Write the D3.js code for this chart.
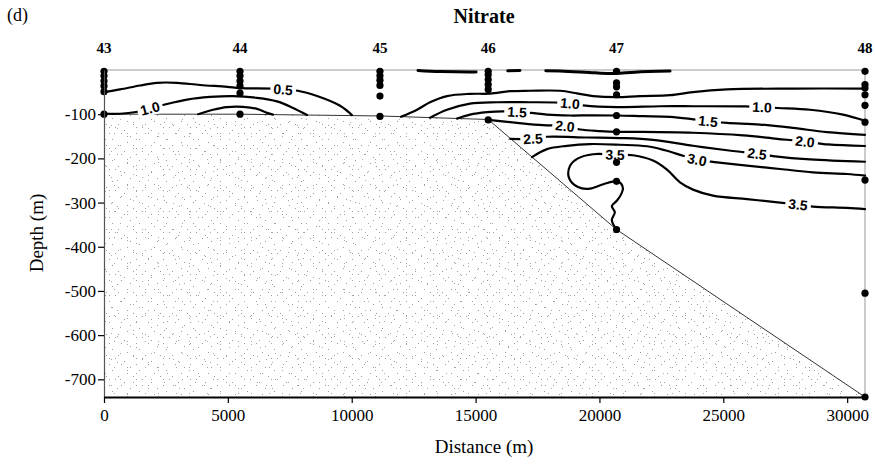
<!DOCTYPE html>
<html>
<head>
<meta charset="utf-8">
<script src="https://cdn.jsdelivr.net/npm/d3@7"></script>
<style>
  body { margin: 0; background: #fff; }
  svg { display: block; }
</style>
</head>
<body>
<svg id="chart" width="875" height="465"></svg>
<script>
// ---- Transect stations ----
const stationNames = ["43", "44", "45", "46", "47", "48"];
const stationDistance = [0, 5490, 11140, 15510, 20690, 30720];
const sampleDepths = [
  [-3, -13, -25, -36, -49, -100],
  [-3, -13, -25, -36, -52, -100],
  [-3, -13, -23, -35, -59, -105],
  [-3, -11, -22, -33, -44, -113],
  [-3, -29, -38, -56, -103, -140, -209, -252, -361],
  [-3, -33, -41, -56, -80, -118, -249, -505, -740]
];

// ---- Axis ticks ----
const xTicks = [0, 5000, 10000, 15000, 20000, 25000, 30000];
const yTicks = [-100, -200, -300, -400, -500, -600, -700];

// ---- Sea floor (distance, depth) ----
const bottomProfile = [[0, -100], [5490, -100], [11140, -104], [15510, -112], [20690, -361], [30720, -740]];

// ---- Nitrate isolines (distance m, depth m) ----
const iso05West = [[0, -50], [650, -44], [1450, -35], [2140, -29], [2950, -29], [3880, -34], [4970, -38], [5490, -41], [6780, -42], [7230, -44], [7830, -47], [8600, -59], [9530, -81], [10010, -102]];
const iso05Surface = [[12676, -1], [13564, -3.5], [15098, -4.5], [15986, -2.5], [17197, -1], [18408, -2.5], [19821, -6.5], [20628, -8], [21435, -5], [22848, -2.5]];
const iso05East = [[11990, -106], [12635, -90], [13160, -73], [13846, -59], [14775, -54], [15582, -53.5], [16389, -48], [17197, -47], [18408, -47], [19094, -53], [19740, -59], [20709, -61.5], [21637, -59], [22848, -57], [23777, -50], [25149, -44], [27814, -42], [30720, -42]];
const iso10West = [[0, -99], [646, -99], [1292, -95], [1857, -87], [2462, -78], [3351, -67], [4279, -61], [5207, -59], [6176, -63], [6984, -71], [7630, -86], [8195, -102]];
const iso10East = [[13160, -108], [13846, -90], [14775, -76], [15865, -73], [17197, -73], [18206, -73.5], [18811, -75.5], [19336, -80], [20709, -84], [22445, -82], [23777, -82], [25876, -82.5], [26562, -84], [27208, -86], [28500, -90], [29832, -101], [30720, -115]];
const iso15West = [[3800, -100], [4400, -90], [4965, -84], [5611, -83.5], [6176, -88], [6580, -97], [6820, -101]];
const iso15East = [[14250, -110], [14775, -101], [15461, -95.5], [16107, -93.5], [16672, -95], [17237, -97], [17883, -101], [18811, -103], [19619, -102.7], [20709, -103], [21758, -104.5], [22848, -106], [23656, -110.5], [24383, -116], [25149, -119.6], [26481, -123.4], [27814, -131], [29186, -140.6], [30720, -146.6]];
const iso20 = [[15510, -113], [16672, -119.6], [17722, -124.8], [18610, -127], [19215, -134.7], [20022, -138.3], [20749, -140], [21758, -140], [23777, -142], [25795, -148], [27168, -155.7], [28298, -162], [29226, -168.5], [30720, -172]];
const iso25 = [[16400, -156], [17318, -155.5], [17883, -151], [19498, -152.7], [20830, -154], [22162, -158], [23777, -171.5], [25149, -181.6], [25674, -185], [26360, -189.5], [27006, -194.7], [28500, -202.4], [30720, -207.6]];
const iso30 = [[17280, -197], [17883, -179], [18690, -171.5], [19619, -167.6], [20830, -169.2], [21920, -172.6], [22646, -181.6], [23373, -194], [23938, -203], [24746, -209], [25957, -216.6], [27289, -224], [28621, -231.7], [29994, -235.3], [30720, -239]];
const iso35 = [[20690, -361], [20500, -340], [20620, -322], [20500, -308], [20700, -296], [20870, -282], [20950, -268], [20870, -257], [20709, -251.5], [20184, -258], [19619, -268.5], [19134, -265], [18771, -244], [18811, -217], [19134, -200], [19740, -190.6], [20628, -191.5], [21355, -193], [22162, -205], [22727, -225.6], [23252, -254.3], [23777, -270.7], [24584, -284.3], [25957, -292.2], [27289, -300], [28015, -304.6], [28621, -309], [29994, -312], [30720, -314.7]];

// isoline level, its vertices, and the vertex indices where the value is printed
const isolines = [
  { level: 0.5, pts: iso05West, labels: [9] },
  { level: 0.5, pts: iso05Surface, labels: [], broken: true },
  { level: 0.5, pts: iso05East, labels: [] },
  { level: 1.0, pts: iso10West, labels: [3] },
  { level: 1.0, pts: iso10East, labels: [6, 12] },
  { level: 1.5, pts: iso15West, labels: [] },
  { level: 1.5, pts: iso15East, labels: [4, 13] },
  { level: 2.0, pts: iso20, labels: [3, 11] },
  { level: 2.5, pts: iso25, labels: [1, 9] },
  { level: 3.0, pts: iso30, labels: [8] },
  { level: 3.5, pts: iso35, labels: [16, 25] }
];

// ---- Drawing ----
const svg = d3.select("#chart");
const serif = "'Liberation Serif', 'Times New Roman', serif";
const sans = "'Liberation Sans', Arial, sans-serif";

const x = d3.scaleLinear().domain([0, 30720]).range([104, 865]);
const y = d3.scaleLinear().domain([-740, 0]).range([397, 70]);

// sparse stipple texture for the sediment, built from two tiles of different period
const defs = svg.append("defs");
function speckTile(id, w, h, specks, color) {
  const p = defs.append("pattern").attr("id", id)
    .attr("patternUnits", "userSpaceOnUse").attr("width", w).attr("height", h);
  specks.forEach(([px, py]) => p.append("rect").attr("x", px).attr("y", py)
    .attr("width", 1).attr("height", 1).attr("fill", color));
}
speckTile("stippleA", 27, 21, [[1,1],[7,1],[16,4],[1,7],[13,7],[22,10],[4,13],[19,16],[10,19],[25,19]], "#9c9c9c");
speckTile("stippleB", 31, 26, [[3,3],[3,6],[12,9],[21,3],[27,15],[9,18],[18,21],[24,24]], "#a8a8a8");

const floorPoly = bottomProfile.concat([[30720, -740], [0, -740]]);
const polyLine = d3.line().x(d => x(d[0])).y(d => y(d[1]));
svg.append("path").attr("d", polyLine(floorPoly) + "Z").attr("fill", "url(#stippleA)");
svg.append("path").attr("d", polyLine(floorPoly) + "Z").attr("fill", "url(#stippleB)");
svg.append("path").attr("d", polyLine(bottomProfile))
  .attr("fill", "none").attr("stroke", "#333").attr("stroke-width", 1);

// frame lines: sea surface and the easternmost cast
svg.append("line").attr("x1", x(0)).attr("x2", x(30720)).attr("y1", y(0)).attr("y2", y(0))
  .attr("stroke", "#999").attr("stroke-width", 1);
svg.append("line").attr("x1", x(30720)).attr("x2", x(30720)).attr("y1", y(0)).attr("y2", y(-740))
  .attr("stroke", "#999").attr("stroke-width", 1);

// isolines
const isoPath = d3.line().x(d => x(d[0])).y(d => y(d[1])).curve(d3.curveCatmullRom.alpha(0.5));
const gIso = svg.append("g");
isolines.forEach(c => {
  const p = gIso.append("path").attr("d", isoPath(c.pts))
    .attr("fill", "none").attr("stroke", "#000")
    .attr("stroke-width", c.broken ? 3 : 2.2)
    .attr("stroke-linejoin", "round").attr("stroke-linecap", "round");
  if (c.broken) p.attr("stroke-dasharray", "58,32,12,26,400");
});

// isoline value labels
const gLab = svg.append("g");
isolines.forEach(c => {
  c.labels.forEach(i => {
    const a = c.pts[Math.max(0, i - 1)], b = c.pts[Math.min(c.pts.length - 1, i + 1)];
    const ang = Math.atan2(y(b[1]) - y(a[1]), x(b[0]) - x(a[0])) * 180 / Math.PI;
    const g = gLab.append("g")
      .attr("transform", `translate(${x(c.pts[i][0])},${y(c.pts[i][1])}) rotate(${ang})`);
    const bg = g.append("rect").attr("fill", "#fff");
    const t = g.append("text").text(d3.format(".1f")(c.level))
      .attr("text-anchor", "middle").attr("dy", "0.36em")
      .style("font-family", sans).style("font-weight", "bold").style("font-size", "14px");
    const bb = t.node().getBBox();
    bg.attr("x", bb.x - 3).attr("y", bb.y + 1).attr("width", bb.width + 6).attr("height", bb.height - 2);
  });
});

// sample positions
const gDots = svg.append("g");
stationDistance.forEach((d, i) => {
  gDots.selectAll(null).data(sampleDepths[i]).join("circle")
    .attr("cx", x(d)).attr("cy", v => y(v)).attr("r", 3.6).attr("fill", "#000");
});

// axes
const yAxis = svg.append("g").attr("transform", `translate(${x(0)},0)`)
  .call(d3.axisLeft(y).tickValues(yTicks).tickFormat(d => String(d)).tickSize(6).tickSizeOuter(0));
const xAxis = svg.append("g").attr("transform", `translate(0,${y(-740)})`)
  .call(d3.axisBottom(x).tickValues(xTicks).tickFormat(d => String(d)).tickSize(6).tickSizeOuter(0));
[yAxis, xAxis].forEach(g => {
  g.attr("font-family", null).attr("font-size", null);
  g.selectAll("text").style("font-family", serif).style("font-size", "17px").attr("fill", "#000");
  g.selectAll("line").attr("stroke", "#000").attr("stroke-width", 1.2);
});
yAxis.select(".domain").attr("stroke", "#555").attr("stroke-width", 1.2);
xAxis.select(".domain").attr("stroke", "#000").attr("stroke-width", 2);
yAxis.selectAll("text").attr("x", -8);
xAxis.selectAll("text").attr("y", 12);

// station names along the top
svg.append("g").selectAll("text").data(stationNames).join("text")
  .attr("x", (d, i) => x(stationDistance[i])).attr("y", 53)
  .attr("text-anchor", "middle").style("font-family", serif).style("font-weight", "bold")
  .style("font-size", "15px").text(d => d);

// titles
svg.append("text").attr("x", 484).attr("y", 23).attr("text-anchor", "middle")
  .style("font-family", serif).style("font-weight", "bold").style("font-size", "20px").text("Nitrate");
svg.append("text").attr("x", 7).attr("y", 21)
  .style("font-family", serif).style("font-size", "18px").text("(d)");
svg.append("text").attr("x", 484).attr("y", 453).attr("text-anchor", "middle")
  .style("font-family", serif).style("font-size", "19px").text("Distance (m)");
svg.append("text").attr("transform", "translate(43,233) rotate(-90)").attr("text-anchor", "middle")
  .style("font-family", serif).style("font-size", "19px").text("Depth (m)");
</script>
</body>
</html>
